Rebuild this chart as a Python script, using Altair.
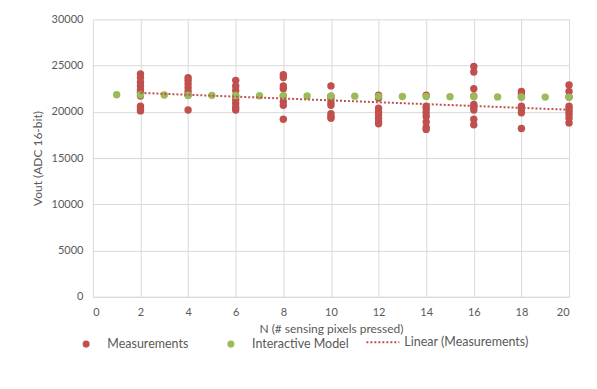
import altair as alt
import pandas as pd

# Measurements: N (pixels pressed) and the measured Vout values at each N
meas_N = [2, 4, 6, 8, 10, 12, 14, 16, 18, 20]
meas_values = [
    [24100, 23700, 23200, 22800, 22400, 22100, 21700, 20600, 20300, 20100],
    [23700, 23400, 23000, 22600, 22200, 21800, 20200],
    [23400, 22800, 22300, 21700, 21300, 20900, 20500, 20200],
    [24000, 23700, 22800, 22500, 21700, 21100, 20700, 19200],
    [22800, 21700, 21400, 21000, 20700, 19800, 19500, 19300],
    [21800, 21500, 20400, 20000, 19700, 19300, 18900, 18700],
    [21800, 20600, 20300, 19900, 19500, 18900, 18300, 18100],
    [24900, 24300, 22500, 21700, 20800, 20500, 20200, 19200, 18600],
    [22200, 21900, 21600, 20600, 20300, 19900, 18200],
    [22900, 22200, 21600, 20600, 20300, 20000, 19700, 19300, 18800],
]

# Interactive model
model_N = list(range(1, 21))
model_V = [21850, 21830, 21810, 21790, 21780, 21760, 21740, 21730, 21710, 21700,
           21690, 21670, 21660, 21650, 21640, 21620, 21610, 21600, 21590, 21580]

point_series = ["Measurements", "Interactive Model"]
point_colors = ["#C0504D", "#9BBB59"]
trend_name = ["Linear (Measurements)"]

rows = []
for n, vals in zip(meas_N, meas_values):
    for v in vals:
        rows.append({"N": n, "V": v, "series": point_series[0]})
meas_df = pd.DataFrame(rows)
model_df = pd.DataFrame({"N": model_N, "V": model_V, "series": point_series[1]})

FONT = "Lato"
TXT = "#595959"
GRID = "#D9D9D9"
RED = "#C0504D"

color_scale = alt.Scale(domain=point_series, range=point_colors)

point_legend = alt.Legend(
    title=None,
    orient="none",
    legendX=-13,
    legendY=319,
    padding=0,
    direction="horizontal",
    columnPadding=36,
    labelFont=FONT,
    labelFontSize=12.5,
    labelColor=TXT,
    labelOffset=15,
    symbolType="circle",
    symbolSize=50,
    symbolStrokeWidth=0,
    symbolOpacity=1,
)

line_legend = alt.Legend(
    title=None,
    orient="none",
    legendX=273,
    legendY=306,
    padding=0,
    direction="horizontal",
    labelFont=FONT,
    labelFontSize=12.5,
    labelColor=TXT,
    labelOffset=4,
    symbolType="stroke",
    symbolSize=1089,
    symbolStrokeColor=RED,
    symbolStrokeWidth=2,
    symbolOpacity=1,
)

x_enc = alt.X(
    "N:Q",
    title="N (# sensing pixels pressed)",
    scale=alt.Scale(domain=[0, 20], nice=False),
    axis=alt.Axis(values=list(range(0, 21, 2)), grid=True, ticks=False, domain=True,
                  domainColor=GRID, labelPadding=10, titlePadding=6),
)
y_enc = alt.Y(
    "V:Q",
    title="Vout (ADC 16-bit)",
    scale=alt.Scale(domain=[0, 30000], nice=False),
    axis=alt.Axis(values=list(range(0, 30001, 5000)), format="d", grid=True, ticks=False,
                  domain=False, labelPadding=10, titlePadding=7),
)
color_enc = alt.Color("series:N", scale=color_scale, legend=point_legend)

meas_layer = alt.Chart(meas_df).mark_circle(size=55, opacity=1).encode(
    x=x_enc, y=y_enc, color=color_enc
)
model_layer = alt.Chart(model_df).mark_circle(size=55, opacity=1).encode(
    x="N:Q", y="V:Q", color=color_enc
)
trend_layer = (
    alt.Chart(meas_df)
    .transform_regression("N", "V", method="linear")
    .transform_calculate(trend="'Linear (Measurements)'")
    .mark_line(strokeWidth=2, color=RED)
    .encode(
        x="N:Q",
        y="V:Q",
        strokeDash=alt.StrokeDash(
            "trend:N",
            scale=alt.Scale(domain=trend_name, range=[[2, 2]]),
            legend=line_legend,
        ),
    )
)

chart = (
    alt.layer(meas_layer, model_layer, trend_layer)
    .properties(
        width=477,
        height=278,
        autosize=alt.AutoSizeParams(type="none"),
        padding={"left": 85, "top": 11, "right": 20, "bottom": 80},
    )
    .configure_view(stroke=None)
    .configure_axis(
        labelFont=FONT, titleFont=FONT, labelColor=TXT, titleColor=TXT,
        labelFontSize=11, titleFontSize=12, titleFontWeight="normal",
        gridColor=GRID, gridWidth=1,
    )
)

chart.save("out.html", embed_options={"renderer": "svg", "actions": False})
